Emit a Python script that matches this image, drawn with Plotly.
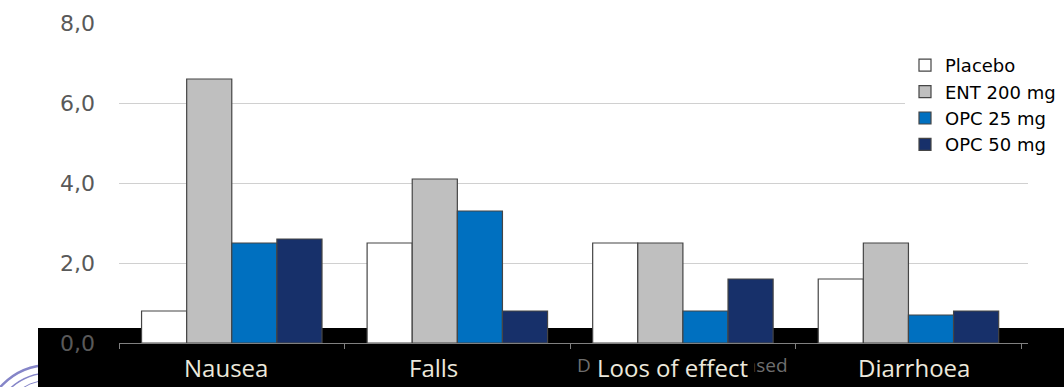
import plotly.graph_objects as go

# Adverse events (%) by treatment arm
categories = ["Nausea", "Falls", "Loos of effect", "Diarrhoea"]
series_names = ["Placebo", "ENT 200 mg", "OPC 25 mg", "OPC 50 mg"]
placebo = [0.8, 2.5, 2.5, 1.6]
ent_200 = [6.6, 4.1, 2.5, 2.5]
opc_25 = [2.5, 3.3, 0.8, 0.7]
opc_50 = [2.6, 0.8, 1.6, 0.8]
y_ticks = [0, 2, 4, 6, 8]
underlying_label = "Dose of drug decreased"

values = [placebo, ent_200, opc_25, opc_50]
colors = ["#ffffff", "#bfbfbf", "#0070c0", "#17306a"]
label_shift = [-6, -24, -10, 6]  # horizontal nudge of each caption, px
label_pad = [1, 1, 6, 1]         # padding of each caption's dark box, px

W, H = 1064, 387
L, R, T, B = 119, 1028, 23, 343  # plot area in pixels


def px_x(px):
    return (px - L) / (R - L)


def px_y(py):
    return (B - py) / (B - T)


fig = go.Figure()
for name, vals, col in zip(series_names, values, colors):
    fig.add_trace(go.Bar(
        x=categories, y=vals, name=name,
        marker=dict(color=col, line=dict(color="#454545", width=1.2)),
    ))

shapes = []
# seal in the lower-left corner
for r, w in [(67, 2.5), (59, 1.5), (52, 1)]:
    shapes.append(dict(
        type="circle", xref="paper", yref="paper", layer="below",
        x0=px_x(50 - r), x1=px_x(50 + r), y0=px_y(432 + r), y1=px_y(432 - r),
        line=dict(color="#8585c8", width=w), fillcolor="rgba(0,0,0,0)",
    ))
# dark caption band along the category axis
shapes.append(dict(
    type="rect", xref="paper", yref="paper", layer="below",
    x0=px_x(38), x1=px_x(W + 2), y0=px_y(H + 4), y1=px_y(328),
    fillcolor="#000000", line=dict(width=0),
))

annotations = [
    dict(x=categories[2], xref="x", y=px_y(365), yref="paper",
         xanchor="center", yanchor="middle",
         text=underlying_label, showarrow=False,
         font=dict(family="Open Sans", size=19, color="#6e6e6e")),
]
for cat, dx, pad in zip(categories, label_shift, label_pad):
    annotations.append(dict(
        x=cat, xref="x", xshift=dx, y=px_y(367), yref="paper",
        xanchor="center", yanchor="middle",
        text=cat, showarrow=False, bgcolor="#000000", borderpad=pad,
        font=dict(family="Open Sans", size=24, color="#ece8dc"),
    ))

fig.update_layout(
    template="none",
    width=W, height=H, autosize=False,
    margin=dict(l=L, r=W - R, t=T, b=H - B, pad=0, autoexpand=False),
    paper_bgcolor="#ffffff", plot_bgcolor="rgba(0,0,0,0)",
    barmode="group", bargap=0.2, bargroupgap=0,
    separators=",.",
    showlegend=True,
    shapes=shapes, annotations=annotations,
    legend=dict(
        x=px_x(905), xanchor="left", y=px_y(47), yanchor="top",
        bgcolor="#ffffff", borderwidth=0,
        font=dict(family="DejaVu Sans", size=18, color="#000000"),
        itemclick=False, tracegroupgap=0,
    ),
    xaxis=dict(
        type="category", range=[-0.5, 3.53], automargin=False,
        showticklabels=False,
        tickson="boundaries", ticks="outside", ticklen=5, tickcolor="#808080",
        tickwidth=1,
        showline=True, linecolor="#808080", linewidth=1,
        showgrid=False, zeroline=False,
    ),
    yaxis=dict(
        range=[0, 8], tickvals=y_ticks, tickformat=".1f", automargin=False,
        showgrid=True, gridcolor="#d0d0d0", gridwidth=1,
        zeroline=False, showline=False, ticks="", ticklabelstandoff=23,
        tickfont=dict(family="DejaVu Sans", size=22, color="#595959"),
    ),
)

fig.write_html("out.html")
